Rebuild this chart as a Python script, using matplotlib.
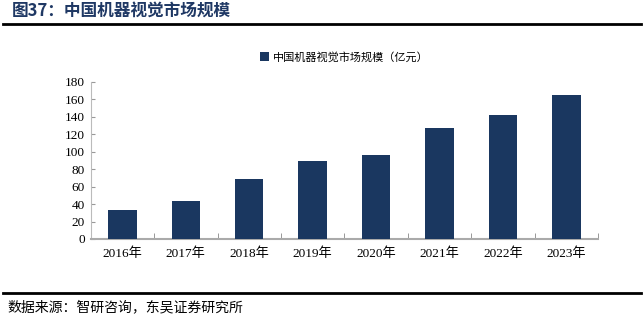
import matplotlib.pyplot as plt
import numpy as np

# 数据
years = ['2016年', '2017年', '2018年', '2019年', '2020年', '2021年', '2022年', '2023年']
market_size = [33.5, 43.5, 68.3, 88.9, 96.1, 127.4, 141.5, 164.8]

title_text = '图37：中国机器视觉市场规模'
legend_label = '中国机器视觉市场规模（亿元）'
source_text = '数据来源：智研咨询，东吴证券研究所'

bar_color = '#1A3760'
mixed = ['Liberation Serif', 'Noto Sans CJK SC']

fig = plt.figure(figsize=(6.44, 3.22), dpi=100)
ax = fig.add_axes([0.1408, 0.2578, 0.7878, 0.4885])

x = np.arange(len(years))
ax.bar(x, market_size, width=0.45, color=bar_color, label=legend_label, zorder=3)

ax.set_xlim(-0.5, len(years) - 0.5)
ax.set_ylim(0, 180)
ax.set_yticks(np.arange(0, 181, 20))
ax.set_xticks(x)
ax.set_xticklabels(years)
ax.set_xticks(np.arange(-0.5, len(years), 1), minor=True)

for lbl in ax.get_xticklabels() + ax.get_yticklabels():
    lbl.set_family(mixed)
    lbl.set_fontsize(9.5)

ax.tick_params(axis='x', which='major', length=0, pad=6)
ax.tick_params(axis='x', which='minor', direction='in', length=4, color='#888888')
ax.tick_params(axis='y', direction='in', length=3, color='#999999', pad=4)

for side in ['top', 'right']:
    ax.spines[side].set_visible(False)
ax.spines['left'].set_color('#bbbbbb')
ax.spines['left'].set_linewidth(0.8)
ax.spines['bottom'].set_color('#aaaaaa')
ax.spines['bottom'].set_linewidth(1.5)

ax.legend(loc='lower center', bbox_to_anchor=(0.5, 1.06), frameon=False,
          handlelength=0.8, handleheight=0.8, handletextpad=0.3,
          prop={'family': 'Noto Sans CJK SC', 'size': 8})

# 标题和来源
fig.text(0.018, 0.965, title_text, fontsize=12, fontweight='bold', color='#1F3864',
         family=['Noto Sans CJK SC'], va='center', ha='left')
fig.add_artist(plt.Line2D([0.005, 0.995], [0.925, 0.925], color='black', lw=2,
                          transform=fig.transFigure))
fig.add_artist(plt.Line2D([0.005, 0.995], [0.09, 0.09], color='black', lw=2,
                          transform=fig.transFigure))
fig.text(0.012, 0.045, source_text, fontsize=10, family=['Noto Sans CJK SC'],
         va='center', ha='left')

plt.savefig('out.png', dpi=100)
